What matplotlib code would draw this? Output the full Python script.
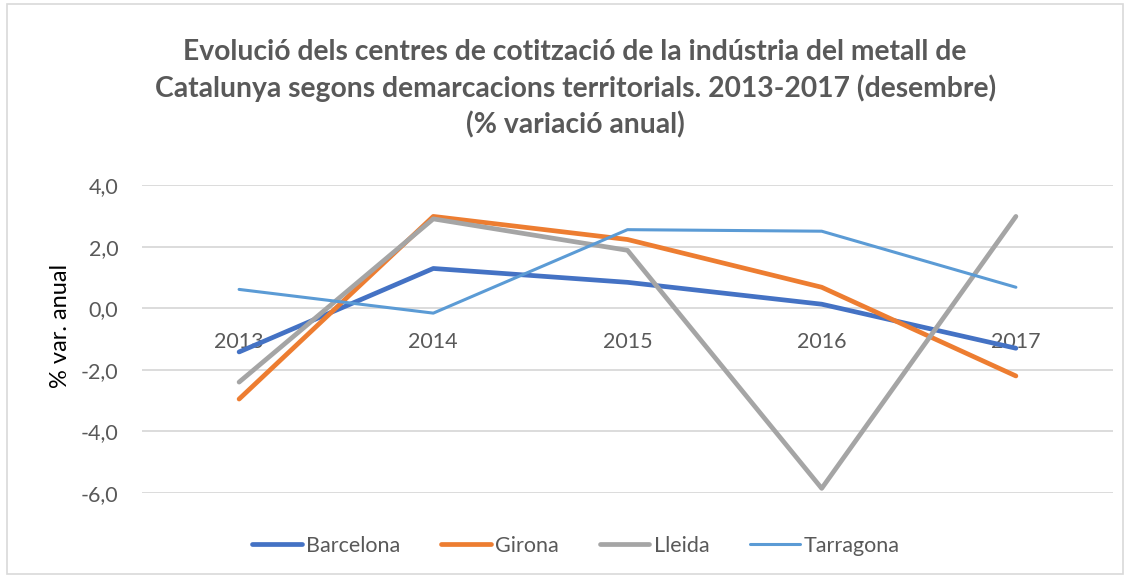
import matplotlib
matplotlib.use("Agg")
import matplotlib.pyplot as plt
from matplotlib.patches import Rectangle
from matplotlib.ticker import FuncFormatter

plt.rcParams["font.family"] = ["Lato", "DejaVu Sans"]

years = ["2013", "2014", "2015", "2016", "2017"]
barcelona = [-1.42, 1.29, 0.84, 0.13, -1.30]
girona = [-2.95, 2.98, 2.23, 0.68, -2.20]
lleida = [-2.40, 2.90, 1.88, -5.85, 2.98]
tarragona = [0.61, -0.16, 2.55, 2.50, 0.68]

series = [
    ("Barcelona", barcelona, "#4472C4", 3.4),
    ("Girona", girona, "#ED7D31", 3.4),
    ("Lleida", lleida, "#A5A5A5", 3.4),
    ("Tarragona", tarragona, "#5B9BD5", 2.2),
]

title = ("Evolució dels centres de cotització de la indústria del metall de\n"
         "Catalunya segons demarcacions territorials. 2013-2017 (desembre)\n"
         "(% variació anual)")

fig = plt.figure(figsize=(11.3, 5.76), dpi=100)
ax = fig.add_axes([142 / 1130, 1 - 493 / 576, 971 / 1130, 308 / 576])

x = list(range(len(years)))
for name, vals, color, lw in series:
    ax.plot(x, vals, color=color, linewidth=lw, label=name,
            solid_capstyle="round", solid_joinstyle="round")

ax.set_xlim(-0.5, len(years) - 0.5)
ax.set_ylim(-6, 4)
ax.set_yticks([-6, -4, -2, 0, 2, 4])
ax.yaxis.set_major_formatter(FuncFormatter(lambda v, p: f"{v:.1f}".replace(".", ",")))
ax.set_xticks(x)
ax.set_xticklabels(years)

ax.grid(True, axis="y", color="#D9D9D9", linewidth=1.3)
ax.set_axisbelow(True)
for s in ["top", "right", "left"]:
    ax.spines[s].set_visible(False)
# category labels sit on the zero line, like the Excel original
ax.spines["bottom"].set_position(("data", 0))
ax.spines["bottom"].set_visible(False)
ax.tick_params(axis="x", length=0, pad=17, labelsize=15.5, labelcolor="#595959")
ax.tick_params(axis="y", length=0, pad=17, labelsize=15.5, labelcolor="#595959")

ax.set_ylabel("% var. anual", fontsize=17, color="black")
ax.yaxis.set_label_coords(-0.073, 0.542)

fig.text(0.509, 1 - 89 / 576, title, ha="center", va="center", fontsize=20.3,
         fontweight="bold", color="#595959", linespacing=1.42)

fig.legend(loc="center", bbox_to_anchor=(0.51, 1 - 546 / 576), ncol=4,
           frameon=False, fontsize=15.5, handlelength=2.3, handletextpad=0.2,
           columnspacing=1.9, labelcolor="#595959")

fig.patches.append(Rectangle((0.006, 0.003), 0.988, 0.99, transform=fig.transFigure,
                             fill=False, edgecolor="#D9D9D9", linewidth=1.2))

fig.savefig("out.png", dpi=100)
